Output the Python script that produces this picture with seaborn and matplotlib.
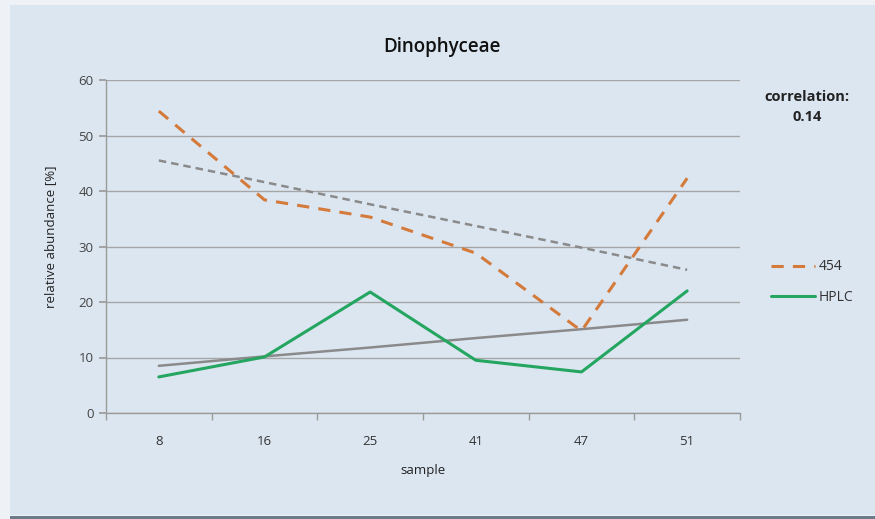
import matplotlib
matplotlib.use("Agg")
import matplotlib.pyplot as plt
import seaborn as sns
import pandas as pd
from matplotlib.patches import Rectangle
from matplotlib.lines import Line2D

samples = ["8", "16", "25", "41", "47", "51"]
v454 = [54.4, 38.4, 35.3, 28.8, 14.8, 42.3]
vhplc = [6.5, 10.1, 21.8, 9.5, 7.4, 22.0]
trend454 = [45.5, 41.6, 37.6, 33.7, 29.8, 25.8]
trendhplc = [8.5, 10.2, 11.8, 13.5, 15.1, 16.8]
yticks = [0, 10, 20, 30, 40, 50, 60]

sns.set_theme(style="white")
plt.rcParams["font.family"] = ["Open Sans", "DejaVu Sans"]

bg = "#dce6f1"
fig = plt.figure(figsize=(8.75, 5.19), dpi=100, facecolor="#eef2f7")
r1 = Rectangle((10/875, 4/519), 1 - 10/875, 1 - 9/519, transform=fig.transFigure,
               facecolor=bg, edgecolor="none", zorder=-10)
r2 = Rectangle((10/875, 0), 1 - 10/875, 3/519, transform=fig.transFigure,
               facecolor="#6d7a8a", edgecolor="none", zorder=-10)
fig.add_artist(r1)
fig.add_artist(r2)
ax = fig.add_axes([106/875, 106/519, 634/875, 333/519])
ax.set_zorder(5)
ax.set_facecolor(bg)

df = pd.DataFrame({"sample": samples, "454": v454, "HPLC": vhplc,
                   "t454": trend454, "thplc": trendhplc})
x = list(range(len(samples)))
sns.lineplot(x=x, y=df["t454"], ax=ax, color="#8a8a8a", lw=1.8, linestyle=(0, (3, 2)), zorder=3)
sns.lineplot(x=x, y=df["thplc"], ax=ax, color="#8a8a8a", lw=1.8, zorder=3)
sns.lineplot(x=x, y=df["454"], ax=ax, color="#d47a3a", lw=2.2, linestyle=(0, (4, 3)), zorder=4)
sns.lineplot(x=x, y=df["HPLC"], ax=ax, color="#24a661", lw=2.2, zorder=4)

ax.set_xlim(-0.5, 5.5)
ax.set_ylim(0, 60)
ax.set_yticks(yticks)
ax.set_xticks(x)
ax.set_xticklabels(samples)
ax.set_xticks([i - 0.5 for i in range(7)], minor=True)
ax.tick_params(axis="x", which="major", length=0, pad=16, labelsize=9.5, labelcolor="#333333")
ax.tick_params(axis="x", which="minor", length=5, color="#9a9a9a", direction="out", bottom=True)
ax.tick_params(axis="y", length=5, color="#9a9a9a", direction="out", left=True, labelsize=9.5,
               labelcolor="#444444", pad=4)
ax.yaxis.grid(True, color="#a5a5a5", lw=1)
ax.set_axisbelow(True)
for s in ["top", "right"]:
    ax.spines[s].set_visible(False)
for s in ["left", "bottom"]:
    ax.spines[s].set_color("#9a9a9a")
    ax.spines[s].set_linewidth(1)

ax.set_xlabel("sample", fontsize=9.5, color="#222222")
ax.xaxis.set_label_coords(0.5, -(464 - 413) / 333)
ax.set_ylabel("relative abundance [%]", fontsize=9.5, color="#222222")
ax.yaxis.set_label_coords(-(106 - 57) / 634, (413 - 237) / 333)
fig.text(442/875, 1 - 47/519, "Dinophyceae", ha="center", va="center", fontsize=13.5,
         fontweight="semibold", color="#111111")
fig.text(807/875, 1 - 97/519, "correlation:", ha="center", va="center", fontsize=10.5,
         fontweight="bold", color="#222222")
fig.text(807/875, 1 - 117/519, "0.14", ha="center", va="center", fontsize=10.5,
         fontweight="bold", color="#222222")

handles = [Line2D([], [], color="#d47a3a", lw=2.2, linestyle=(0, (4, 3))),
           Line2D([], [], color="#24a661", lw=2.2)]
fig.legend(handles, ["454", "HPLC"], loc="center left", bbox_to_anchor=(758/875, 1 - 282/519),
           frameon=False, fontsize=10, handlelength=3.2, handletextpad=0.3, labelspacing=1.1,
           labelcolor="#333333")

fig.savefig("out.png", dpi=100, facecolor=fig.get_facecolor())
